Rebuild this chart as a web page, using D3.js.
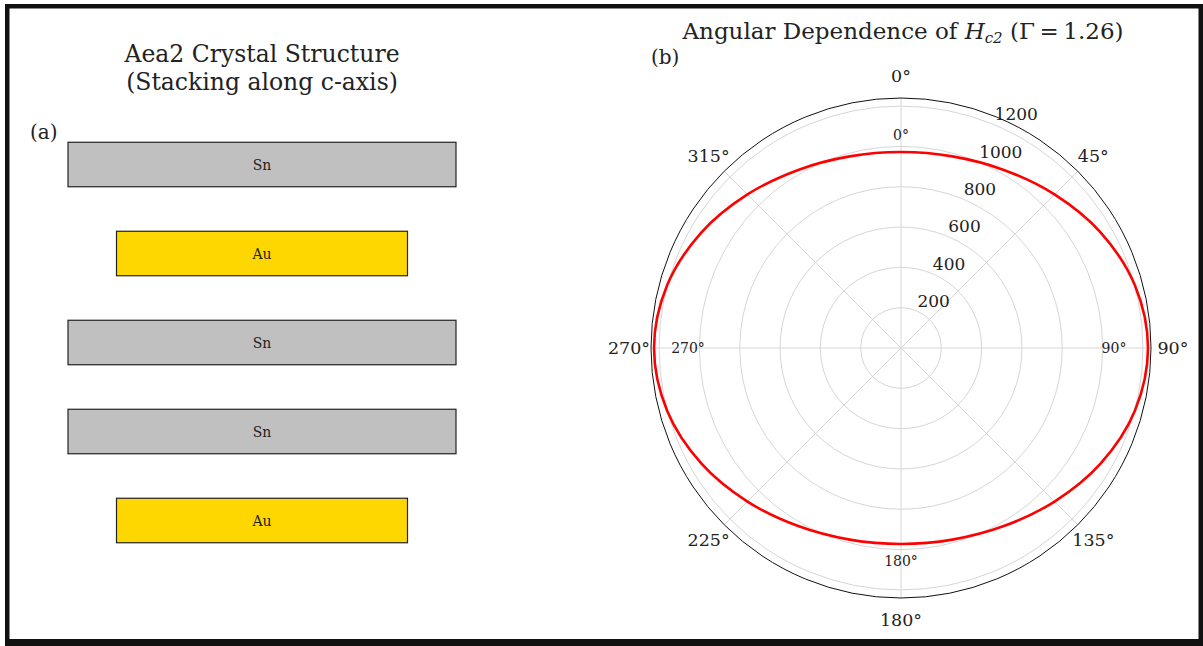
<!DOCTYPE html>
<html>
<head>
<meta charset="utf-8">
<script src="https://cdn.jsdelivr.net/npm/d3@7"></script>
<style>
  body { margin: 0; background: #ffffff; }
  svg text { font-family: "DejaVu Serif", "Liberation Serif", serif; fill: #222; }
</style>
</head>
<body>
<svg id="fig" width="1203" height="646"></svg>
<script>
// ---- data ----
// stacking sequence along c, top to bottom
const layerNames = ["Sn", "Au", "Sn", "Sn", "Au"];
// in-plane extent of each layer type (structure units)
const layerExtent = { Sn: [0, 4], Au: [0.5, 3.5] };
const layerFill = { Sn: "#c0c0c0", Au: "#ffd700" };

// upper critical field vs. field angle (deg from c-axis)
const anisotropy = 1.26;
const angleDeg = [0, 15, 30, 45, 60, 75, 90, 105, 120, 135, 150, 165,
                  180, 195, 210, 225, 240, 255, 270, 285, 300, 315, 330, 345];
const hc2Values = [972, 984, 1020, 1077, 1144, 1201, 1225, 1201, 1144, 1077, 1020, 984,
                   972, 984, 1020, 1077, 1144, 1201, 1225, 1201, 1144, 1077, 1020, 984];
const radialTicks = [200, 400, 600, 800, 1000, 1200];
const radialMax = 1240;
const outerAngleTicks = [0, 45, 90, 135, 180, 225, 270, 315];
const innerAngleTicks = [0, 90, 180, 270];

const svg = d3.select("#fig");

// ---- figure frame ----
svg.append("rect").attr("x", 0).attr("y", 0).attr("width", 1203).attr("height", 646).attr("fill", "#fff");
svg.append("rect").attr("x", 5).attr("y", 4).attr("width", 1198).attr("height", 642).attr("fill", "#111");
svg.append("rect").attr("x", 9.5).attr("y", 8.5).attr("width", 1189).attr("height", 630.5).attr("fill", "#fff");

// ---- panel (a): layer stack ----
const gA = svg.append("g");
const xA = d3.scaleLinear().domain([0, 4]).range([68, 456]);
const yA = d3.scaleLinear().domain([0, 4]).range([164.5, 520.5]);
const layerHalf = 0.25;

gA.append("text").attr("x", 262).attr("y", 62).attr("text-anchor", "middle")
  .style("font-size", "23.5px").text("Aea2 Crystal Structure");
gA.append("text").attr("x", 262).attr("y", 90).attr("text-anchor", "middle")
  .style("font-size", "23.5px").text("(Stacking along c-axis)");
gA.append("text").attr("x", 30).attr("y", 139).style("font-size", "20px").text("(a)");

const layers = gA.selectAll("g.layer").data(layerNames).join("g").attr("class", "layer");
layers.append("rect")
  .attr("x", d => xA(layerExtent[d][0]))
  .attr("y", (d, i) => yA(i - layerHalf))
  .attr("width", d => xA(layerExtent[d][1]) - xA(layerExtent[d][0]))
  .attr("height", (d, i) => yA(i + layerHalf) - yA(i - layerHalf))
  .attr("fill", d => layerFill[d])
  .attr("stroke", "#222").attr("stroke-width", 1.2);
layers.append("text")
  .attr("x", d => xA((layerExtent[d][0] + layerExtent[d][1]) / 2))
  .attr("y", (d, i) => yA(i))
  .attr("text-anchor", "middle").attr("dominant-baseline", "central")
  .style("font-size", "14px").text(d => d);

// ---- panel (b): polar plot of Hc2(theta) ----
const cx = 901, cy = 348;
const gB = svg.append("g").attr("transform", `translate(${cx},${cy})`);
const r = d3.scaleLinear().domain([0, radialMax]).range([0, 250]);
const rad = deg => deg * Math.PI / 180;

// radial grid circles
gB.selectAll("circle.grid").data(radialTicks).join("circle").attr("class", "grid")
  .attr("r", d => r(d)).attr("fill", "none").attr("stroke", "#d6d6d6").attr("stroke-width", 1);
// angular spokes
gB.selectAll("line.spoke").data(outerAngleTicks).join("line").attr("class", "spoke")
  .attr("x1", 0).attr("y1", 0)
  .attr("x2", d => r(radialMax) * Math.sin(rad(d)))
  .attr("y2", d => -r(radialMax) * Math.cos(rad(d)))
  .attr("stroke", "#d6d6d6").attr("stroke-width", 1);
// outer boundary
gB.append("circle").attr("r", r(radialMax)).attr("fill", "none").attr("stroke", "#111").attr("stroke-width", 1);

// radial tick labels along 22.5 deg
gB.selectAll("text.rtick").data(radialTicks).join("text").attr("class", "rtick")
  .attr("x", d => r(d) * Math.sin(rad(22.5)) + 1)
  .attr("y", d => -r(d) * Math.cos(rad(22.5)) - 4)
  .style("font-size", "17px").text(d => d);

// Hc2 curve
const pts = angleDeg.map((a, i) => ({ a, v: hc2Values[i] }));
const line = d3.lineRadial().angle(d => rad(d.a)).radius(d => r(d.v)).curve(d3.curveCatmullRomClosed);
gB.append("path").attr("d", line(pts)).attr("fill", "none").attr("stroke", "#ff0000").attr("stroke-width", 2.6);

// outer angle labels
gB.selectAll("text.otick").data(outerAngleTicks).join("text").attr("class", "otick")
  .attr("x", d => 272 * Math.sin(rad(d)))
  .attr("y", d => -272 * Math.cos(rad(d)))
  .attr("text-anchor", "middle").attr("dominant-baseline", "central")
  .style("font-size", "17.5px").text(d => d + "°");
// inner angle labels
gB.selectAll("text.itick").data(innerAngleTicks).join("text").attr("class", "itick")
  .attr("x", d => 213 * Math.sin(rad(d)))
  .attr("y", d => -213 * Math.cos(rad(d)))
  .attr("text-anchor", "middle").attr("dominant-baseline", "central")
  .style("font-size", "14px").text(d => d + "°");

// title and panel tag
const title = svg.append("text").attr("x", cx + 2).attr("y", 39).attr("text-anchor", "middle").style("font-size", "23px");
title.append("tspan").text("Angular Dependence of ");
title.append("tspan").style("font-style", "italic").text("H");
title.append("tspan").style("font-style", "italic").style("font-size", "15px").attr("dy", 4).text("c2");
title.append("tspan").attr("dy", -4).text(" (Γ\u2009=\u20091.26)");
svg.append("text").attr("x", 651).attr("y", 64).style("font-size", "20px").text("(b)");
</script>
</body>
</html>
